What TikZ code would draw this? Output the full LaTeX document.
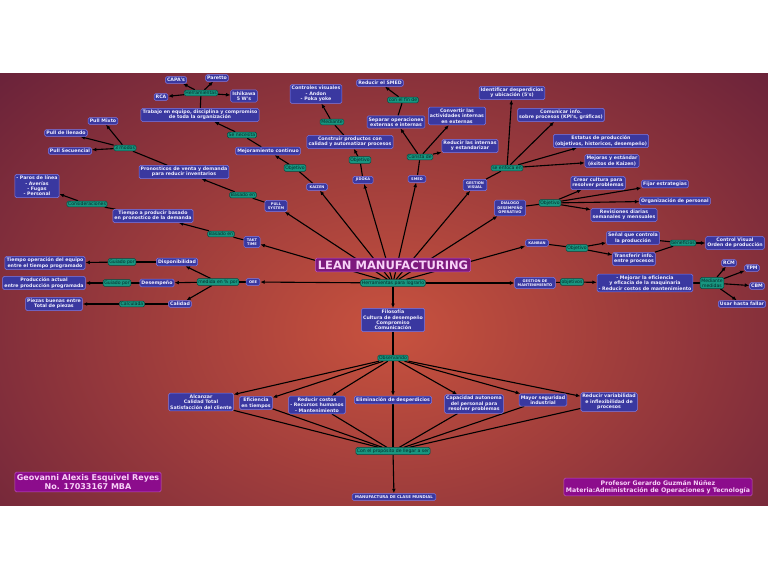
\documentclass[tikz,border=0pt]{standalone}
\usepackage{fontspec}
\usepackage{xcolor}
\usepackage{tikz}
\usetikzlibrary{arrows.meta,backgrounds}
\newfontfamily\mapfont{DejaVu Sans}
\definecolor{boxblue}{RGB}{58,56,160}
\definecolor{boxedge}{RGB}{125,122,228}
\definecolor{boxtext}{RGB}{238,238,255}
\definecolor{linkteal}{RGB}{24,150,128}
\definecolor{linkedge}{RGB}{10,72,64}
\definecolor{linktext}{RGB}{6,40,40}
\definecolor{leanpurple}{RGB}{125,25,125}
\definecolor{leanedge}{RGB}{190,85,190}
\definecolor{leantext}{RGB}{248,210,248}
\definecolor{signmagenta}{RGB}{140,12,140}
\definecolor{bgcenter}{RGB}{200,82,62}
\definecolor{bgedge}{RGB}{66,14,56}

\begin{document}
\begin{tikzpicture}[
    x=1pt, y=-1pt,
    concept/.style={draw=boxedge, fill=boxblue, rounded corners=1.5pt, line width=0.5pt, text=boxtext, align=center, inner sep=1.6pt, font=\mapfont\bfseries\fontsize{4.7}{5.4}\selectfont},
    tool/.style={concept, inner xsep=3pt, inner ysep=2pt, font=\mapfont\bfseries\fontsize{3.6}{4.4}\selectfont},
    link/.style={draw=linkedge, fill=linkteal, rounded corners=1.5pt, line width=0.5pt, text=linktext, align=center, inner sep=1.2pt, font=\mapfont\fontsize{4.6}{5.2}\selectfont},
    lean/.style={draw=leanedge, fill=leanpurple, rounded corners=1.5pt, line width=0.6pt, text=leantext, inner sep=2.5pt, font=\mapfont\bfseries\fontsize{11.5}{13}\selectfont},
    sign/.style={draw=leanedge, fill=signmagenta, rounded corners=1.5pt, line width=0.5pt, text=leantext, align=center, inner sep=2pt},
    arrow/.style={-{Latex[length=4.5pt,width=3.8pt]}, line width=1.1pt},
    plain/.style={line width=1.1pt}
]
    \useasboundingbox (0,0) rectangle (768,578);

    % centre
    \node[lean] (lean) at (393,265) {LEAN MANUFACTURING};
    \node[link] (hp) at (393,283) {Herramientas para lograrlo};

    % tools
    \node[tool] (pull) at (276,206) {PULL\\SYSTEM};
    \node[tool] (kaizen) at (317,187) {KAIZEN};
    \node[tool] (jidoka) at (363,180) {JIDOKA};
    \node[tool] (smed) at (417,179) {SMED};
    \node[tool] (gvis) at (475,185) {GESTION\\VISUAL};
    \node[tool] (dialogo) at (510,208) {DIALOGO\\DESEMPEÑO\\OPERATIVO};
    \node[tool] (kanban) at (537,243) {KANBAN};
    \node[tool] (gmant) at (535,283) {GESTION DE\\MANTENIMIENTO};
    \node[tool] (oee) at (253,282) {OEE};
    \node[tool] (takt) at (252,242) {TAKT\\TIME};
    \node[concept] (filo) at (393,320) {Filosofía\\Cultura de desempeño\\Compromiso\\Comunicación};

    % pull system
    \node[link] (lpull) at (243,195) {Basado en};
    \node[concept] (pron) at (184,172) {Pronosticos de venta y demanda\\para reducir inventarios};
    \node[link] (lmodos) at (125,148) {3 modos};
    \node[concept] (pmixto) at (103,121) {Pull Mixto};
    \node[concept] (pllen) at (66,133) {Pull de llenado};
    \node[concept] (psec) at (70,151) {Pull Secuencial};

    % kaizen
    \node[link] (lkai) at (295,168) {Objetivo};
    \node[concept] (mejora) at (268,151) {Mejoramiento continuo};
    \node[link] (lnec) at (242,135) {Se necesita};
    \node[concept] (trabajo) at (200,115) {Trabajo en equipo, disciplina y compromiso\\de toda la organización};
    \node[link] (lherr) at (201,93) {Herramientas};
    \node[concept] (capa) at (176,80) {CAPA's};
    \node[concept] (paretto) at (217,78) {Paretto};
    \node[concept] (rca) at (161,97) {RCA};
    \node[concept] (ishi) at (244,96) {Ishikawa\\5 W's};

    % jidoka
    \node[link] (ljid) at (360,160) {Objetivo};
    \node[concept] (constr) at (350,142) {Construir productos con\\calidad y automatizar procesos};
    \node[link] (lmed) at (332,122) {Mediante};
    \node[concept] (ctrl) at (316,94) {Controles visuales\\- Andon\\- Poka yoke};

    % smed
    \node[link] (lconsta) at (420,157) {Consta de};
    \node[concept] (separar) at (396,122) {Separar operaciones\\externas e internas};
    \node[concept] (convertir) at (457,116) {Convertir las\\actividades internas\\en externas};
    \node[concept] (redint) at (470,146) {Reducir las internas\\y estandarizar};
    \node[link] (lfin) at (403,100) {con el fin de};
    \node[concept] (rsmed) at (380,83) {Reducir el SMED};

    % gestion visual
    \node[link] (lenf) at (507,168) {se enfoca en};
    \node[concept] (ident) at (512,93) {Identificar desperdicios\\y ubicación (5's)};
    \node[concept] (comun) at (561,115) {Comunicar info.\\sobre procesos (KPI's, gráficas)};
    \node[concept] (estatus) at (601,141) {Estatus de producción\\(objetivos, historicos, desempeño)};
    \node[concept] (mejoras) at (612,161) {Mejoras y estándar\\(éxitos de Kaizen)};

    % dialogo
    \node[link] (ldia) at (550,203) {Objetivo};
    \node[concept] (crear) at (598,183) {Crear cultura para\\resolver problemas};
    \node[concept] (fijar) at (665,184) {Fijar estrategias};
    \node[concept] (orgper) at (675,201) {Organización de personal};
    \node[concept] (revis) at (624,215) {Revisiones diarias\\semanales y mensuales};

    % kanban
    \node[link] (lkan) at (577,248) {Objetivo};
    \node[concept] (senal) at (633,238) {Señal que controla\\la producción};
    \node[concept] (transf) at (634,259) {Transferir info.\\entre procesos};
    \node[link] (lben) at (683,243) {beneficios};
    \node[concept] (cvis) at (735,243) {Control Visual\\Orden de producción};

    % mantenimiento
    \node[link] (lobjm) at (572,282) {objetivos};
    \node[concept] (mejef) at (645,283) {- Mejorar la eficiencia\\y eficacia de la maquinaria\\- Reducir costos de mantenimiento};
    \node[link] (lmedm) at (712,283) {Mediante\\medidas};
    \node[concept] (rcm) at (729,263) {RCM};
    \node[concept] (tpm) at (752,268) {TPM};
    \node[concept] (cbm) at (757,286) {CBM};
    \node[concept] (usar) at (742,304) {Usar hasta fallar};

    % takt time
    \node[link] (ltakt) at (221,234) {Basado en};
    \node[concept] (tprod) at (153,216) {Tiempo a producir basado\\en pronostico de la demanda};
    \node[link] (lcons) at (87,204) {Consideraciones};
    \node[concept] (paros) at (37,186) {- Paros de línea\\- Averías\\- Fugas\\- Personal};

    % oee
    \node[link] (lmedida) at (218,282) {medida en \% por};
    \node[concept] (disp) at (177,262) {Disponibilidad};
    \node[concept] (desem) at (157,283) {Desempeño};
    \node[concept] (calid) at (180,304) {Calidad};
    \node[link] (lg1) at (122,262) {Guiado por};
    \node[concept] (topera) at (45,263) {Tiempo operación del equipo\\entre el tiempo programado};
    \node[link] (lg2) at (117,283) {Guiado por};
    \node[concept] (pact) at (44,283) {Producción actual\\entre producción programada};
    \node[link] (lcalc) at (132,304) {Calculada};
    \node[concept] (piezas) at (54,304) {Piezas buenas entre\\Total de piezas};

    % filosofia
    \node[link] (lobs) at (393,358) {Observando};
    \node[concept] (alc) at (201,402) {Alcanzar\\Calidad Total\\Satisfacción del cliente};
    \node[concept] (efic) at (256,403) {Eficiencia\\en tiempos};
    \node[concept] (redc) at (317,405) {Reducir costos\\- Recursos humanos\\- Mantenimiento};
    \node[concept] (elim) at (393,400) {Eliminación de desperdicios};
    \node[concept] (capac) at (474,404) {Capacidad autonoma\\del personal para\\resolver problemas};
    \node[concept] (mayor) at (543,400) {Mayor seguridad\\industrial};
    \node[concept] (redvar) at (609,402) {Reducir variabilidad\\e inflexibilidad de\\procesos};
    \node[link] (lprop) at (393,451) {Con el propósito de llegar a ser};
    \node[tool, font=\mapfont\bfseries\fontsize{3.9}{4.6}\selectfont] (mcm) at (394,497) {MANUFACTURA DE CLASE MUNDIAL};

    % signatures
    \node[sign, font=\mapfont\bfseries\fontsize{8}{9.5}\selectfont] (alumno) at (88,482) {Geovanni Alexis Esquivel Reyes\\No. 17033167 MBA};
    \node[sign, font=\mapfont\bfseries\fontsize{6.2}{7.6}\selectfont] (profesor) at (658,487) {Profesor Gerardo Guzmán Núñez\\Materia:Administración de Operaciones y Tecnología};

    \begin{scope}[on background layer]
        \fill[white] (0,0) rectangle (768,578);
        \begin{scope}
            \clip (0,73) rectangle (768,505);
            \shade[inner color=bgcenter, outer color=bgedge] (390,330) ellipse [x radius=760, y radius=540];
        \end{scope}

        \draw[arrow] (hp) -- (pull);
        \draw[arrow] (hp) -- (kaizen);
        \draw[arrow] (hp) -- (jidoka);
        \draw[arrow] (hp) -- (smed);
        \draw[arrow] (hp) -- (gvis);
        \draw[arrow] (hp) -- (dialogo);
        \draw[arrow] (hp) -- (kanban);
        \draw[arrow] (hp) -- (gmant);
        \draw[arrow] (hp) -- (oee);
        \draw[arrow] (hp) -- (takt);
        \draw[arrow] (hp) -- (filo);

        \draw[plain] (pull) -- (lpull);
        \draw[arrow] (lpull) -- (pron);
        \draw[plain] (pron) -- (lmodos);
        \draw[arrow] (lmodos) -- (pmixto);
        \draw[arrow] (lmodos) -- (pllen);
        \draw[arrow] (lmodos) -- (psec);

        \draw[plain] (kaizen) -- (lkai);
        \draw[arrow] (lkai) -- (mejora);
        \draw[plain] (mejora) -- (lnec);
        \draw[arrow] (lnec) -- (trabajo);
        \draw[plain] (trabajo) -- (lherr);
        \draw[arrow] (lherr) -- (capa);
        \draw[arrow] (lherr) -- (paretto);
        \draw[arrow] (lherr) -- (rca);
        \draw[arrow] (lherr) -- (ishi);

        \draw[plain] (jidoka) -- (ljid);
        \draw[arrow] (ljid) -- (constr);
        \draw[plain] (constr) -- (lmed);
        \draw[arrow] (lmed) -- (ctrl);

        \draw[plain] (smed) -- (lconsta);
        \draw[arrow] (lconsta) -- (separar);
        \draw[arrow] (lconsta) -- (convertir);
        \draw[arrow] (lconsta) -- (redint);
        \draw[plain] (separar) -- (lfin);
        \draw[arrow] (lfin) -- (rsmed);

        \draw[plain] (gvis) -- (lenf);
        \draw[arrow] (lenf) -- (ident);
        \draw[arrow] (lenf) -- (comun);
        \draw[arrow] (lenf) -- (estatus);
        \draw[arrow] (lenf) -- (mejoras);

        \draw[plain] (dialogo) -- (ldia);
        \draw[arrow] (ldia) -- (crear);
        \draw[arrow] (ldia) -- (fijar);
        \draw[arrow] (ldia) -- (orgper);
        \draw[arrow] (ldia) -- (revis);

        \draw[plain] (kanban) -- (lkan);
        \draw[arrow] (lkan) -- (senal);
        \draw[arrow] (lkan) -- (transf);
        \draw[plain] (senal) -- (lben);
        \draw[plain] (transf) -- (lben);
        \draw[arrow] (lben) -- (cvis);

        \draw[plain] (gmant) -- (lobjm);
        \draw[arrow] (lobjm) -- (mejef);
        \draw[plain] (mejef) -- (lmedm);
        \draw[arrow] (lmedm) -- (rcm);
        \draw[arrow] (lmedm) -- (tpm);
        \draw[arrow] (lmedm) -- (cbm);
        \draw[arrow] (lmedm) -- (usar);

        \draw[plain] (takt) -- (ltakt);
        \draw[arrow] (ltakt) -- (tprod);
        \draw[plain] (tprod) -- (lcons);
        \draw[arrow] (lcons) -- (paros);

        \draw[plain] (oee) -- (lmedida);
        \draw[arrow] (lmedida) -- (disp);
        \draw[arrow] (lmedida) -- (desem);
        \draw[arrow] (lmedida) -- (calid);
        \draw[plain] (disp) -- (lg1);
        \draw[arrow] (lg1) -- (topera);
        \draw[plain] (desem) -- (lg2);
        \draw[arrow] (lg2) -- (pact);
        \draw[plain] (calid) -- (lcalc);
        \draw[arrow] (lcalc) -- (piezas);

        \draw[plain] (filo) -- (lobs);
        \draw[arrow] (lobs) -- (alc);
        \draw[arrow] (lobs) -- (efic);
        \draw[arrow] (lobs) -- (redc);
        \draw[arrow] (lobs) -- (elim);
        \draw[arrow] (lobs) -- (capac);
        \draw[arrow] (lobs) -- (mayor);
        \draw[arrow] (lobs) -- (redvar);
        \draw[plain] (alc) -- (lprop);
        \draw[plain] (efic) -- (lprop);
        \draw[plain] (redc) -- (lprop);
        \draw[plain] (elim) -- (lprop);
        \draw[plain] (capac) -- (lprop);
        \draw[plain] (mayor) -- (lprop);
        \draw[plain] (redvar) -- (lprop);
        \draw[arrow] (lprop) -- (mcm);
    \end{scope}
\end{tikzpicture}
\end{document}
